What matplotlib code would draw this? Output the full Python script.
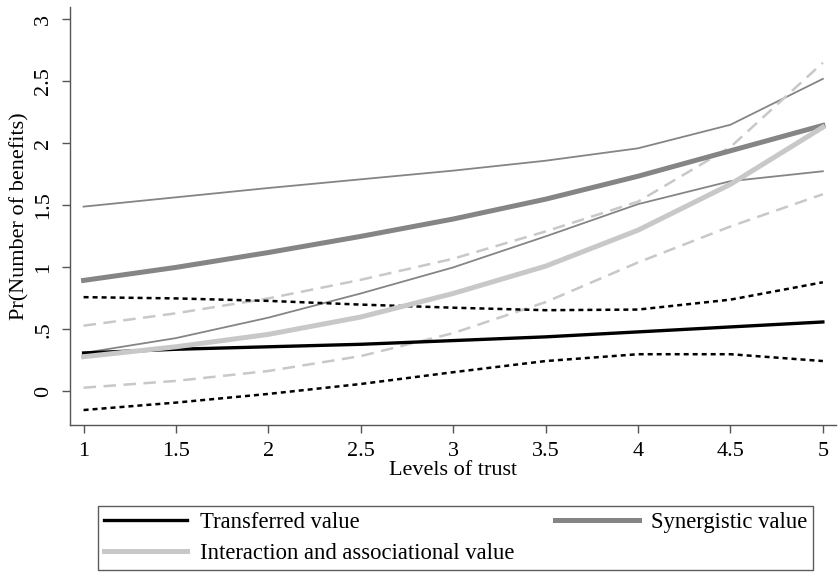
import numpy as np
import matplotlib
matplotlib.use("Agg")
import matplotlib.pyplot as plt

plt.rcParams['font.family'] = ['Liberation Serif', 'DejaVu Serif']

trust = [1, 1.5, 2, 2.5, 3, 3.5, 4, 4.5, 5]

# transferred value and its CI
transferred = [0.31, 0.34, 0.36, 0.38, 0.41, 0.44, 0.48, 0.52, 0.56]
transferred_hi = [0.76, 0.75, 0.73, 0.70, 0.675, 0.655, 0.66, 0.74, 0.88]
transferred_lo = [-0.15, -0.09, -0.02, 0.06, 0.155, 0.245, 0.30, 0.30, 0.245]

# synergistic value and its CI
synergistic = [0.895, 1.0, 1.12, 1.25, 1.39, 1.55, 1.735, 1.94, 2.145]
synergistic_hi = [1.49, 1.565, 1.64, 1.71, 1.78, 1.86, 1.96, 2.15, 2.52]
synergistic_lo = [0.31, 0.43, 0.595, 0.79, 1.0, 1.25, 1.51, 1.695, 1.775]

# interaction and associational value and its CI
interaction = [0.28, 0.36, 0.46, 0.60, 0.79, 1.01, 1.30, 1.67, 2.13]
interaction_hi = [0.53, 0.63, 0.75, 0.90, 1.07, 1.29, 1.53, 1.97, 2.65]
interaction_lo = [0.03, 0.085, 0.165, 0.285, 0.47, 0.72, 1.04, 1.33, 1.59]

xticks = [1, 1.5, 2, 2.5, 3, 3.5, 4, 4.5, 5]
xticklabels = ['1', '1.5', '2', '2.5', '3', '3.5', '4', '4.5', '5']
yticks = [0, 0.5, 1, 1.5, 2, 2.5, 3]
yticklabels = ['0', '.5', '1', '1.5', '2', '2.5', '3']

fig = plt.figure(figsize=(8.4, 5.75), dpi=100)
ax = fig.add_axes([0.083, 0.261, 0.912, 0.727])

dark = '#858585'
light = '#c8c8c8'

ax.plot(trust, synergistic_hi, color=dark, lw=1.3)
ax.plot(trust, synergistic_lo, color=dark, lw=1.3)
ax.plot(trust, interaction_hi, color=light, lw=1.8, dashes=(5, 3))
ax.plot(trust, interaction_lo, color=light, lw=1.8, dashes=(5, 3))
ax.plot(trust, transferred_hi, color='black', lw=1.8, dashes=(2, 1.6))
ax.plot(trust, transferred_lo, color='black', lw=1.8, dashes=(2, 1.6))

l1, = ax.plot(trust, transferred, color='black', lw=2.4, label='Transferred value')
l3, = ax.plot(trust, synergistic, color=dark, lw=3.6, label='Synergistic value')
l2, = ax.plot(trust, interaction, color=light, lw=3.6,
              label='Interaction and associational value')

ax.set_xlim(0.925, 5.07)
ax.set_ylim(-0.27, 3.1)
ax.spines['top'].set_visible(False)
ax.spines['right'].set_visible(False)
for s in ['left', 'bottom']:
    ax.spines[s].set_color('#555555')
    ax.spines[s].set_linewidth(1.0)

ax.set_xticks(xticks)
ax.set_xticklabels(xticklabels, fontsize=16)
ax.set_yticks(yticks)
ax.set_yticklabels(yticklabels, fontsize=16, rotation=90, va='center')
ax.tick_params(axis='both', length=6, width=1.0, color='#555555', pad=6)

ax.set_xlabel('Levels of trust', fontsize=16, labelpad=0)
ax.set_ylabel('Pr(Number of benefits)', fontsize=16, labelpad=3)

leg = fig.legend(handles=[l1, l2, l3], ncol=2, loc='lower left',
                 bbox_to_anchor=(0.1167, 0.0087, 0.851, 0.125), mode='expand',
                 fontsize=16.3, frameon=True, fancybox=False, edgecolor='#333333',
                 handlelength=3.7, handletextpad=0.55, borderpad=0.25,
                 borderaxespad=0, labelspacing=0.45, columnspacing=1.0)
leg.get_frame().set_linewidth(1.0)

fig.savefig('out.png', dpi=100)
